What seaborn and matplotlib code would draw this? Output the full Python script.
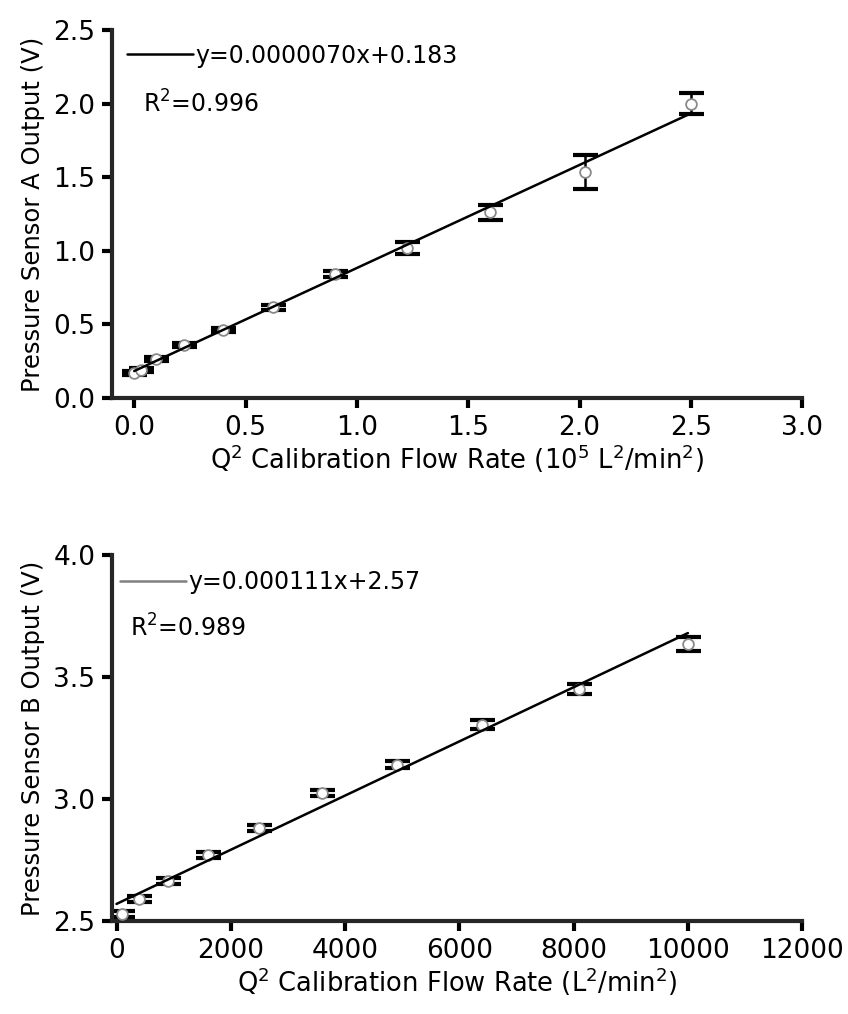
import numpy as np
import matplotlib
matplotlib.use("Agg")
import matplotlib.pyplot as plt
from matplotlib.lines import Line2D
import seaborn as sns

# Sensor A data (x in 10^5 L^2/min^2)
q2_a = [0.0, 0.03, 0.1, 0.225, 0.4, 0.625, 0.9, 1.225, 1.6, 2.025, 2.5]
volt_a = [0.17, 0.19, 0.265, 0.36, 0.46, 0.615, 0.84, 1.02, 1.26, 1.535, 2.0]
err_a = [0.015, 0.015, 0.015, 0.015, 0.015, 0.015, 0.02, 0.04, 0.05, 0.115, 0.07]
slope_a, icpt_a = 0.70, 0.183   # slope per 10^5 L^2/min^2
eq_a = "y=0.0000070x+0.183"
r2_a = "R$^2$=0.996"

# Sensor B data (x in L^2/min^2)
q2_b = [100, 400, 900, 1600, 2500, 3600, 4900, 6400, 8100, 10000]
volt_b = [2.53, 2.59, 2.665, 2.77, 2.88, 3.025, 3.14, 3.305, 3.45, 3.635]
err_b = [0.012, 0.012, 0.012, 0.012, 0.012, 0.012, 0.015, 0.02, 0.02, 0.03]
slope_b, icpt_b = 0.000111, 2.57
eq_b = "y=0.000111x+2.57"
r2_b = "R$^2$=0.989"

sns.set_style("ticks")
plt.rcParams["font.family"] = ["DejaVu Sans"]
plt.rcParams["mathtext.fontset"] = "dejavusans"
plt.rcParams["text.color"] = "black"
plt.rcParams["axes.labelcolor"] = "black"

fig = plt.figure(figsize=(8.48, 10.14), dpi=100)
ax1 = fig.add_axes([0.132, 0.6075, 0.814, 0.363])
ax2 = fig.add_axes([0.132, 0.0917, 0.814, 0.361])


def draw_panel(ax, xs, ys, es, slope, icpt, eq, r2, legend_color,
               leg_x, leg_y, r2_x, r2_y):
    ax.errorbar(xs, ys, yerr=es, fmt="none", ecolor="black",
                elinewidth=1.8, capsize=9, capthick=3, zorder=2)
    sns.scatterplot(x=xs, y=ys, ax=ax, marker="o", s=60,
                    facecolor="white", edgecolor="#8a8a8a",
                    linewidth=1.3, zorder=3)
    fit_x = np.array([0, xs[-1]])
    sns.lineplot(x=fit_x, y=slope * fit_x + icpt, ax=ax,
                 color="black", linewidth=1.8, zorder=4)
    handle = Line2D([0], [0], color=legend_color, linewidth=1.8)
    ax.legend([handle], [eq], loc="center left", frameon=False,
              fontsize=17, handlelength=2.8, handletextpad=0.1,
              borderaxespad=0.0, borderpad=0.0,
              bbox_to_anchor=(leg_x, leg_y))
    ax.text(r2_x, r2_y, r2, transform=ax.transAxes, fontsize=17,
            va="center", ha="left")


draw_panel(ax1, q2_a, volt_a, err_a, slope_a, icpt_a, eq_a, r2_a,
           "black", 0.022, 0.93, 0.045, 0.80)
draw_panel(ax2, q2_b, volt_b, err_b, slope_b, icpt_b, eq_b, r2_b,
           "#808080", 0.012, 0.925, 0.026, 0.80)

ax1.set_xlim(-0.1, 3.0)
ax1.set_ylim(0.0, 2.5)
ax1.set_xticks(np.arange(0, 3.01, 0.5))
ax1.set_yticks(np.arange(0, 2.51, 0.5))
ax1.set_xlabel("Q$^2$ Calibration Flow Rate (10$^5$ L$^2$/min$^2$)", fontsize=18.5)
ax1.set_ylabel("Pressure Sensor A Output (V)", fontsize=17.5)

ax2.set_xlim(-80, 12000)
ax2.set_ylim(2.5, 4.0)
ax2.set_xticks(np.arange(0, 12001, 2000))
ax2.set_yticks(np.arange(2.5, 4.01, 0.5))
ax2.set_xlabel("Q$^2$ Calibration Flow Rate (L$^2$/min$^2$)", fontsize=18.5)
ax2.set_ylabel("Pressure Sensor B Output (V)", fontsize=17.5)

for ax in (ax1, ax2):
    ax.yaxis.set_major_formatter(matplotlib.ticker.FormatStrFormatter("%.1f"))
    sns.despine(ax=ax)
    for side in ("left", "bottom"):
        ax.spines[side].set_linewidth(3)
    ax.tick_params(width=3, length=7, labelsize=19, colors="black", pad=5)
    ax.xaxis.labelpad = 1
    ax.yaxis.labelpad = 6
ax1.xaxis.set_major_formatter(matplotlib.ticker.FormatStrFormatter("%.1f"))

fig.savefig("out.png", dpi=100)
